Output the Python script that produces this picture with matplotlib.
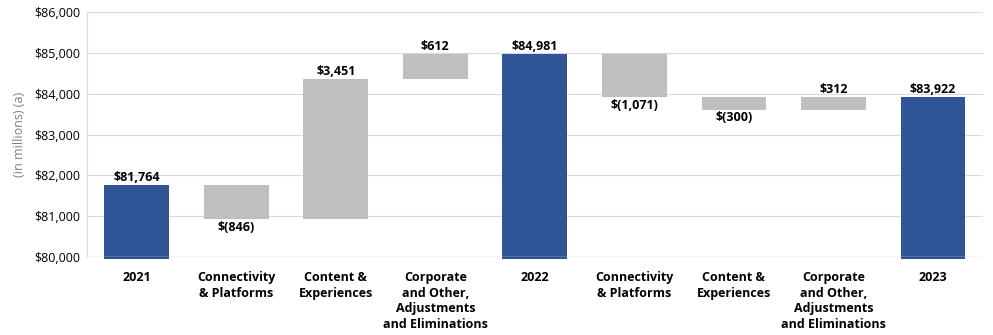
import matplotlib
matplotlib.use('Agg')
from matplotlib import pyplot as plt
import numpy as np

plt.rcParams['font.family'] = ['Open Sans', 'DejaVu Sans']

# categories and values (in millions)
categories = ['2021', 'Connectivity\n& Platforms', 'Content &\nExperiences',
              'Corporate\nand Other,\nAdjustments\nand Eliminations', '2022',
              'Connectivity\n& Platforms', 'Content &\nExperiences',
              'Corporate\nand Other,\nAdjustments\nand Eliminations', '2023']
values = [81764, -846, 3451, 612, 84981, -1071, -300, 312, 83922]
is_total = [True, False, False, False, True, False, False, False, True]
labels = ['$81,764', '$(846)', '$3,451', '$612', '$84,981',
          '$(1,071)', '$(300)', '$312', '$83,922']

blue = '#2f5597'
gray = '#bfbfbf'
ymin = 80000

fig = plt.figure(figsize=(9.93, 3.35), dpi=100)
ax = fig.add_axes([0.0876, 0.233, 0.902, 0.731])

x = np.arange(len(categories))
running = 0
for i in range(len(values)):
    if is_total[i]:
        bottom = ymin - 60
        height = values[i] - bottom
        running = values[i]
        top = values[i]
        color = blue
    else:
        start = running
        running = running + values[i]
        bottom = min(start, running)
        height = abs(values[i])
        top = max(start, running)
        color = gray
    ax.bar(x[i], height, bottom=bottom, width=0.65, color=color, zorder=2, clip_on=False)
    if is_total[i] or values[i] > 0:
        ax.text(x[i], top + 20, labels[i], ha='center', va='bottom',
                fontsize=9, fontweight='bold', color='black')
    else:
        ax.text(x[i], bottom - 40, labels[i], ha='center', va='top',
                fontsize=9, fontweight='bold', color='black')

# light line over the blue bars at the base
ax.axhline(ymin, color='#dde4f0', lw=1, zorder=3)

ax.set_xlim(-0.5, len(categories) - 0.5)
ax.set_ylim(ymin, 86000)
ax.set_yticks(np.arange(80000, 86001, 1000))
ax.set_yticklabels(['${:,}'.format(v) for v in range(80000, 86001, 1000)], fontsize=9)
ax.set_xticks(x)
ax.set_xticklabels(categories, fontsize=9, fontweight='bold', va='top', linespacing=1.28)
ax.tick_params(axis='both', length=0, pad=5)
ax.tick_params(axis='x', pad=10)
ax.grid(axis='y', color='#d9d9d9', lw=0.8, zorder=0)
ax.set_axisbelow(True)
for s in ['top', 'right', 'bottom']:
    ax.spines[s].set_visible(False)
ax.spines['left'].set_color('#d9d9d9')
ax.spines['left'].set_linewidth(0.8)

ax.set_ylabel('(in millions) (a)', fontsize=9, color='#7f7f7f', labelpad=6)

fig.savefig('out.png', dpi=100)
